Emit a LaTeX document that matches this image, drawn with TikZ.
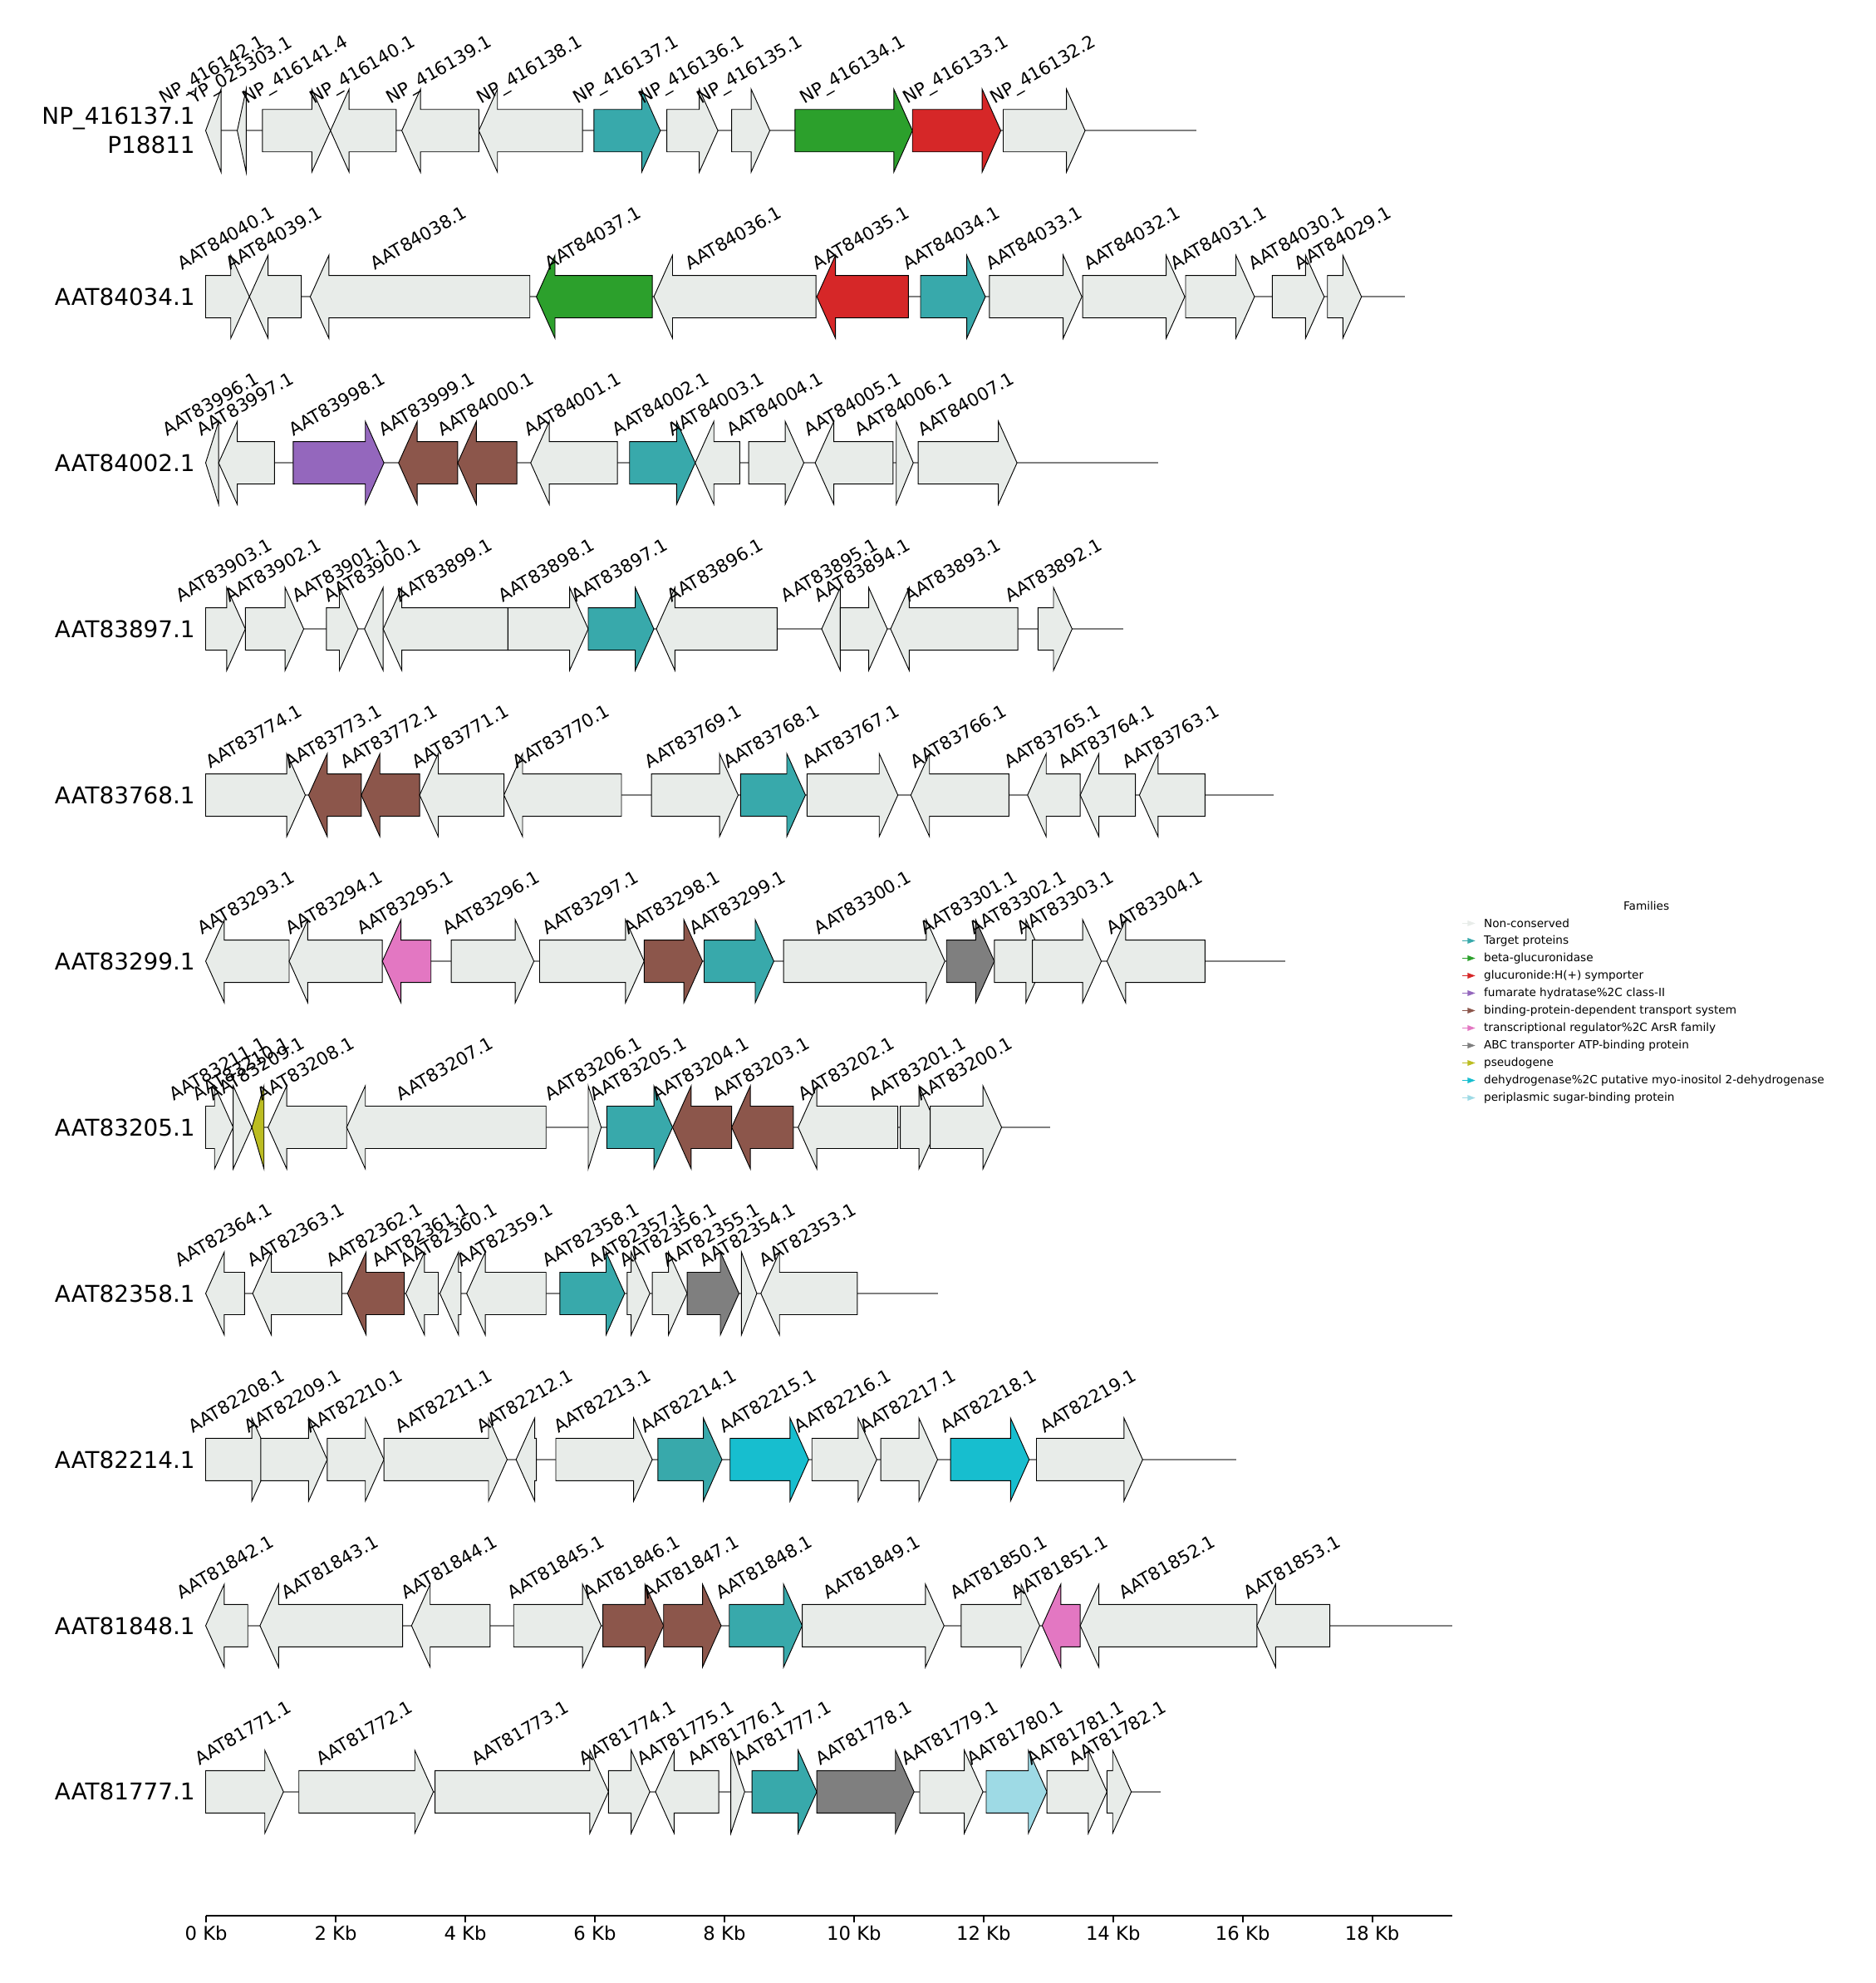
\documentclass[tikz,border=0pt]{standalone}
\usepackage{fontspec}
\setmainfont{DejaVu Sans}
\usetikzlibrary{calc}
\pgfdeclarelayer{lab}
\pgfsetlayers{main,lab}
\definecolor{nc}{RGB}{232,236,233}
\definecolor{tgt}{RGB}{56,169,171}
\definecolor{bglu}{RGB}{44,160,44}
\definecolor{sym}{RGB}{214,39,40}
\definecolor{fum}{RGB}{148,103,189}
\definecolor{bpd}{RGB}{140,86,75}
\definecolor{trr}{RGB}{227,119,194}
\definecolor{abc}{RGB}{127,127,127}
\definecolor{pse}{RGB}{188,189,34}
\definecolor{deh}{RGB}{23,190,207}
\definecolor{psb}{RGB}{158,218,229}
\newcounter{gcnt}
\newcommand\labfont{\fontsize{8}{9.6}\selectfont}
% half-width offset of a rotated label, in picture units
\def\labw{33.7}
% \gene{row}{start}{end}{dir}{colour}{label}  (x in zoom units)
\newcommand\gene[6]{%
  \stepcounter{gcnt}%
  \pgfmathsetmacro\gs{151.06+0.64085*#2}%
  \pgfmathsetmacro\ge{151.06+0.64085*#3}%
  \pgfmathsetmacro\gy{103.3+131.35*#1}%
  \pgfmathsetmacro\gc{(\gs+\ge)/2}%
  \ifnum#4>0
    \pgfmathsetmacro\gn{max(\gs,\ge-14.74)}%
    \draw[genebox,fill=#5] (\gs,\gy-16.75) -- (\gn,\gy-16.75) -- (\gn,\gy-32.8) -- (\ge,\gy) -- (\gn,\gy+32.8) -- (\gn,\gy+16.75) -- (\gs,\gy+16.75) -- cycle;
  \else
    \pgfmathsetmacro\gn{min(\ge,\gs+14.74)}%
    \draw[genebox,fill=#5] (\ge,\gy-16.75) -- (\gn,\gy-16.75) -- (\gn,\gy-32.8) -- (\gs,\gy) -- (\gn,\gy+32.8) -- (\gn,\gy+16.75) -- (\ge,\gy+16.75) -- cycle;
  \fi
  \pgfmathsetmacro\lx{\gc-\labw}%
  \begin{pgfonlayer}{lab}
  \node[glab] (g\thegcnt) at (\lx,\gy-16.75) {#6};
  \end{pgfonlayer}%
}
\newcommand\backbone[2]{%
  \pgfmathsetmacro\gy{103.3+131.35*#1}%
  \pgfmathsetmacro\ge{151.06+0.64085*#2}%
  \draw[bbline] (162.6,\gy) -- (\ge,\gy);
}
\begin{document}
\begin{tikzpicture}[x=0.02cm,y=-0.02cm,
  genebox/.style={draw=black,line width=0.35pt,line join=miter},
  bbline/.style={draw=gray,line width=0.6pt},
  glab/.style={rotate=30,anchor=south west,inner sep=0pt,font=\labfont,text height=0.76em,text depth=0.24em},
  rowlab/.style={anchor=east,inner sep=0pt,align=right,font=\fontsize{10.4}{13}\selectfont},
  ticklab/.style={anchor=north,inner sep=0pt,font=\fontsize{8.5}{10}\selectfont},
  legtext/.style={anchor=west,inner sep=0pt,font=\fontsize{5.1}{6}\selectfont}]
\useasboundingbox (0,0) rectangle (1483,1568);
% backbones
\backbone{0}{1240}\backbone{1}{1498}\backbone{2}{1193}\backbone{3}{1150}
\backbone{4}{1336}\backbone{5}{1350}\backbone{6}{1060}\backbone{7}{922}
\backbone{8}{1290}\backbone{9}{1556}\backbone{10}{1196}
% row 0
\def\labw{36.8}
\gene{0}{18}{37}{-1}{nc}{NP\_416142.1}
\def\labw{36.0}
\gene{0}{57}{68}{-1}{nc}{YP\_025303.1}
\def\labw{36.8}
\gene{0}{88}{172}{1}{nc}{NP\_416141.4}
\gene{0}{172}{253}{-1}{nc}{NP\_416140.1}
\gene{0}{260}{355}{-1}{nc}{NP\_416139.1}
\gene{0}{355}{483}{-1}{nc}{NP\_416138.1}
\gene{0}{497}{579}{1}{tgt}{NP\_416137.1}
\gene{0}{587}{650}{1}{nc}{NP\_416136.1}
\gene{0}{667}{714}{1}{nc}{NP\_416135.1}
\gene{0}{745}{890}{1}{bglu}{NP\_416134.1}
\gene{0}{890}{999}{1}{sym}{NP\_416133.1}
\gene{0}{1002}{1103}{1}{nc}{NP\_416132.2}
\def\labw{33.7}
% row 1
\gene{1}{18}{72}{1}{nc}{AAT84040.1}
\gene{1}{72}{136}{-1}{nc}{AAT84039.1}
\gene{1}{147}{418}{-1}{nc}{AAT84038.1}
\gene{1}{426}{569}{-1}{bglu}{AAT84037.1}
\gene{1}{571}{771}{-1}{nc}{AAT84036.1}
\gene{1}{772}{885}{-1}{sym}{AAT84035.1}
\gene{1}{900}{980}{1}{tgt}{AAT84034.1}
\gene{1}{985}{1099}{1}{nc}{AAT84033.1}
\gene{1}{1100}{1226}{1}{nc}{AAT84032.1}
\gene{1}{1227}{1312}{1}{nc}{AAT84031.1}
\gene{1}{1334}{1398}{1}{nc}{AAT84030.1}
\gene{1}{1402}{1444}{1}{nc}{AAT84029.1}
% row 2
\gene{2}{18}{34}{-1}{nc}{AAT83996.1}
\gene{2}{34}{103}{-1}{nc}{AAT83997.1}
\gene{2}{126}{238}{1}{fum}{AAT83998.1}
\gene{2}{256}{329}{-1}{bpd}{AAT83999.1}
\gene{2}{329}{402}{-1}{bpd}{AAT84000.1}
\gene{2}{419}{526}{-1}{nc}{AAT84001.1}
\gene{2}{541}{622}{1}{tgt}{AAT84002.1}
\gene{2}{622}{677}{-1}{nc}{AAT84003.1}
\gene{2}{688}{756}{1}{nc}{AAT84004.1}
\gene{2}{770}{866}{-1}{nc}{AAT84005.1}
\gene{2}{870}{891}{1}{nc}{AAT84006.1}
\gene{2}{897}{1019}{1}{nc}{AAT84007.1}
% row 3
\gene{3}{18}{67}{1}{nc}{AAT83903.1}
\gene{3}{67}{139}{1}{nc}{AAT83902.1}
\gene{3}{167}{206}{1}{nc}{AAT83901.1}
\gene{3}{214}{237}{-1}{nc}{AAT83900.1}
\gene{3}{237}{391}{-1}{nc}{AAT83899.1}
\gene{3}{391}{490}{1}{nc}{AAT83898.1}
\gene{3}{490}{571}{1}{tgt}{AAT83897.1}
\gene{3}{574}{723}{-1}{nc}{AAT83896.1}
\gene{3}{778}{801}{-1}{nc}{AAT83895.1}
\gene{3}{801}{859}{1}{nc}{AAT83894.1}
\gene{3}{863}{1020}{-1}{nc}{AAT83893.1}
\gene{3}{1045}{1087}{1}{nc}{AAT83892.1}
% row 4
\gene{4}{18}{141}{1}{nc}{AAT83774.1}
\gene{4}{145}{210}{-1}{bpd}{AAT83773.1}
\gene{4}{210}{282}{-1}{bpd}{AAT83772.1}
\gene{4}{282}{386}{-1}{nc}{AAT83771.1}
\gene{4}{386}{531}{-1}{nc}{AAT83770.1}
\gene{4}{568}{675}{1}{nc}{AAT83769.1}
\gene{4}{678}{758}{1}{tgt}{AAT83768.1}
\gene{4}{760}{872}{1}{nc}{AAT83767.1}
\gene{4}{888}{1009}{-1}{nc}{AAT83766.1}
\gene{4}{1032}{1097}{-1}{nc}{AAT83765.1}
\gene{4}{1097}{1165}{-1}{nc}{AAT83764.1}
\gene{4}{1170}{1251}{-1}{nc}{AAT83763.1}
% row 5
\gene{5}{18}{121}{-1}{nc}{AAT83293.1}
\gene{5}{121}{236}{-1}{nc}{AAT83294.1}
\gene{5}{236}{296}{-1}{trr}{AAT83295.1}
\gene{5}{321}{423}{1}{nc}{AAT83296.1}
\gene{5}{430}{559}{1}{nc}{AAT83297.1}
\gene{5}{559}{631}{1}{bpd}{AAT83298.1}
\gene{5}{633}{719}{1}{tgt}{AAT83299.1}
\gene{5}{731}{930}{1}{nc}{AAT83300.1}
\gene{5}{932}{991}{1}{abc}{AAT83301.1}
\gene{5}{991}{1053}{1}{nc}{AAT83302.1}
\gene{5}{1038}{1123}{1}{nc}{AAT83303.1}
\gene{5}{1130}{1251}{-1}{nc}{AAT83304.1}
% row 6
\gene{6}{18}{52}{1}{nc}{AAT83211.1}
\gene{6}{52}{75}{1}{nc}{AAT83210.1}
\gene{6}{75}{90}{-1}{pse}{AAT83209.1}
\gene{6}{95}{192}{-1}{nc}{AAT83208.1}
\gene{6}{192}{438}{-1}{nc}{AAT83207.1}
\gene{6}{490}{506}{1}{nc}{AAT83206.1}
\gene{6}{513}{594}{1}{tgt}{AAT83205.1}
\gene{6}{594}{667}{-1}{bpd}{AAT83204.1}
\gene{6}{667}{743}{-1}{bpd}{AAT83203.1}
\gene{6}{749}{872}{-1}{nc}{AAT83202.1}
\gene{6}{875}{921}{1}{nc}{AAT83201.1}
\gene{6}{912}{1000}{1}{nc}{AAT83200.1}
% row 7
\gene{7}{18}{66}{-1}{nc}{AAT82364.1}
\gene{7}{76}{186}{-1}{nc}{AAT82363.1}
\gene{7}{193}{263}{-1}{bpd}{AAT82362.1}
\gene{7}{265}{305}{-1}{nc}{AAT82361.1}
\gene{7}{307}{333}{-1}{nc}{AAT82360.1}
\gene{7}{340}{438}{-1}{nc}{AAT82359.1}
\gene{7}{455}{535}{1}{tgt}{AAT82358.1}
\gene{7}{538}{566}{1}{nc}{AAT82357.1}
\gene{7}{569}{612}{1}{nc}{AAT82356.1}
\gene{7}{612}{676}{1}{abc}{AAT82355.1}
\gene{7}{679}{698}{1}{nc}{AAT82354.1}
\gene{7}{703}{822}{-1}{nc}{AAT82353.1}
% row 8
\gene{8}{18}{98}{1}{nc}{AAT82208.1}
\gene{8}{86}{168}{1}{nc}{AAT82209.1}
\gene{8}{168}{238}{1}{nc}{AAT82210.1}
\gene{8}{238}{390}{1}{nc}{AAT82211.1}
\gene{8}{401}{426}{-1}{nc}{AAT82212.1}
\gene{8}{450}{569}{1}{nc}{AAT82213.1}
\gene{8}{576}{655}{1}{tgt}{AAT82214.1}
\gene{8}{665}{762}{1}{deh}{AAT82215.1}
\gene{8}{766}{846}{1}{nc}{AAT82216.1}
\gene{8}{851}{921}{1}{nc}{AAT82217.1}
\gene{8}{937}{1034}{1}{deh}{AAT82218.1}
\gene{8}{1043}{1174}{1}{nc}{AAT82219.1}
% row 9
\gene{9}{18}{70}{-1}{nc}{AAT81842.1}
\gene{9}{85}{261}{-1}{nc}{AAT81843.1}
\gene{9}{272}{369}{-1}{nc}{AAT81844.1}
\gene{9}{398}{506}{1}{nc}{AAT81845.1}
\gene{9}{508}{583}{1}{bpd}{AAT81846.1}
\gene{9}{583}{654}{1}{bpd}{AAT81847.1}
\gene{9}{664}{754}{1}{tgt}{AAT81848.1}
\gene{9}{754}{929}{1}{nc}{AAT81849.1}
\gene{9}{950}{1047}{1}{nc}{AAT81850.1}
\gene{9}{1050}{1097}{-1}{trr}{AAT81851.1}
\gene{9}{1097}{1315}{-1}{nc}{AAT81852.1}
\gene{9}{1315}{1405}{-1}{nc}{AAT81853.1}
% row 10
\gene{10}{18}{114}{1}{nc}{AAT81771.1}
\gene{10}{133}{299}{1}{nc}{AAT81772.1}
\gene{10}{301}{515}{1}{nc}{AAT81773.1}
\gene{10}{515}{566}{1}{nc}{AAT81774.1}
\gene{10}{573}{651}{-1}{nc}{AAT81775.1}
\gene{10}{666}{683}{1}{nc}{AAT81776.1}
\gene{10}{692}{772}{1}{tgt}{AAT81777.1}
\gene{10}{772}{892}{1}{abc}{AAT81778.1}
\gene{10}{899}{977}{1}{nc}{AAT81779.1}
\gene{10}{981}{1056}{1}{psb}{AAT81780.1}
\gene{10}{1056}{1130}{1}{nc}{AAT81781.1}
\gene{10}{1130}{1160}{1}{nc}{AAT81782.1}
% row labels
\node[rowlab] (r0) at (154.5,103.3) {NP\_416137.1\\P18811};
\foreach \t [count=\i] in {AAT84034.1,AAT84002.1,AAT83897.1,AAT83768.1,AAT83299.1,AAT83205.1,AAT82358.1,AAT82214.1,AAT81848.1,AAT81777.1}
  \node[rowlab] (r\i) at (154.5,103.3+131.35*\i) {\t};
% axis
\draw[line width=0.7pt] (163,1515) -- (1148,1515);
\foreach \k in {0,2,...,18}{
  \draw[line width=0.7pt] (163+51.22*\k,1515) -- (163+51.22*\k,1520.3);
  \node[ticklab] (t\k) at (163+51.22*\k,1522.5) {\k{} Kb};
}
% legend
\node[inner sep=0pt,font=\fontsize{5.1}{6}\selectfont] (legtitle) at (1301.7,716.5) {Families};
\foreach \c/\t [count=\i from 0] in {nc/{Non-conserved},tgt/{Target proteins},bglu/{beta-glucuronidase},sym/{glucuronide:H(+) symporter},fum/{fumarate hydratase\%2C class-II},bpd/{binding-protein-dependent transport system},trr/{transcriptional regulator\%2C ArsR family},abc/{ABC transporter ATP-binding protein},pse/{pseudogene},deh/{dehydrogenase\%2C putative myo-inositol 2-dehydrogenase},psb/{periplasmic sugar-binding protein}}{
  \fill[\c] (1155.9,730.1+13.8*\i-0.55) rectangle (1161.5,730.1+13.8*\i+0.55);
  \fill[\c] (1160.3,730.1+13.8*\i-2.3) -- (1166.4,730.1+13.8*\i) -- (1160.3,730.1+13.8*\i+2.3) -- cycle;
  \node[legtext] (leg\i) at (1172.9,730.1+13.8*\i) {\t};
}
\end{tikzpicture}
\end{document}
